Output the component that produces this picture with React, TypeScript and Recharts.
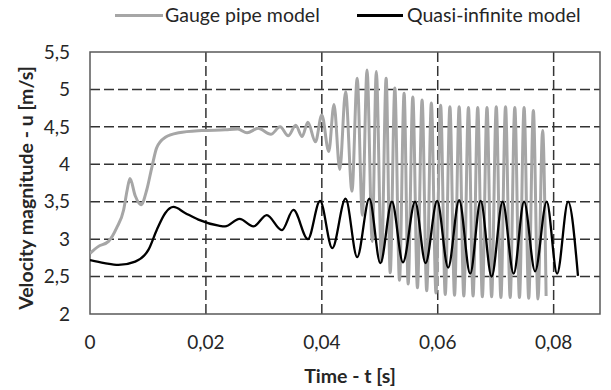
import React from 'react';
import { LineChart, Line, XAxis, YAxis, CartesianGrid, ReferenceArea } from 'recharts';

const gaugeTime = [
  0, 0.0014, 0.0032, 0.0046, 0.0058, 0.0064, 0.0069, 0.0078, 0.0088, 0.0098,
  0.0107, 0.0115, 0.013, 0.0153, 0.0193, 0.0233, 0.0255, 0.0271, 0.029, 0.0312,
  0.0328, 0.0342, 0.0355, 0.0366, 0.0376, 0.0389, 0.04, 0.0412, 0.0421, 0.0431,
  0.0441, 0.0452, 0.0461, 0.047, 0.0478, 0.0487, 0.0494, 0.0503, 0.0511, 0.0518,
  0.0526, 0.0534, 0.0542, 0.0549, 0.0557, 0.0565, 0.0573, 0.0581, 0.0589, 0.0597,
  0.0605, 0.0613, 0.0621, 0.0629, 0.0637, 0.0645, 0.0653, 0.0661, 0.0669, 0.0677,
  0.0685, 0.0693, 0.0701, 0.0709, 0.0717, 0.0725, 0.0733, 0.0741, 0.0749, 0.0757,
  0.0765, 0.0773, 0.0781, 0.0787,
];
const gaugeVelocity = [
  2.81, 2.9, 2.97, 3.15, 3.39, 3.65, 3.81, 3.58, 3.46, 3.66,
  3.97, 4.22, 4.36, 4.42, 4.45, 4.46, 4.47, 4.42, 4.48, 4.4,
  4.5, 4.38, 4.52, 4.37, 4.56, 4.3, 4.66, 4.17, 4.8, 3.93,
  4.97, 3.64, 5.15, 3.32, 5.26, 2.97, 5.24, 2.7, 5.15, 2.55,
  5.02, 2.45, 4.95, 2.4, 4.9, 2.35, 4.86, 2.31, 4.82, 2.28,
  4.79, 2.26, 4.77, 2.25, 4.77, 2.24, 4.76, 2.24, 4.76, 2.23,
  4.76, 2.23, 4.77, 2.22, 4.77, 2.22, 4.76, 2.22, 4.76, 2.21,
  4.72, 2.2, 4.45, 2.24,
];

const quasiTime = [
  0, 0.0025, 0.0049, 0.0078, 0.0101, 0.0115, 0.013, 0.0144, 0.0164, 0.0187,
  0.0222, 0.0233, 0.0258, 0.0282, 0.0305, 0.0331, 0.0351, 0.0376, 0.0397, 0.0418,
  0.0441, 0.0461, 0.0482, 0.0501, 0.0521, 0.054, 0.0561, 0.0579, 0.0599, 0.0618,
  0.0637, 0.0656, 0.0674, 0.0693, 0.0712, 0.0731, 0.0749, 0.0768, 0.0788, 0.0806,
  0.0825, 0.0842,
];
const quasiVelocity = [
  2.72, 2.68, 2.655, 2.7, 2.86, 3.12, 3.35, 3.43, 3.35, 3.26,
  3.18, 3.17, 3.27, 3.17, 3.32, 3.12, 3.39, 3.0, 3.51, 2.88,
  3.54, 2.76, 3.54, 2.68, 3.5, 2.69, 3.5, 2.68, 3.51, 2.62,
  3.52, 2.54, 3.51, 2.5, 3.5, 2.54, 3.5, 2.57, 3.5, 2.54,
  3.5, 2.51,
];

const xTicks = [0, 0.02, 0.04, 0.06, 0.08];
const yTicks = [2, 2.5, 3, 3.5, 4, 4.5, 5, 5.5];
const xGrid = [0.02, 0.04, 0.06, 0.08];
const yGrid = [2.5, 3, 3.5, 4, 4.5, 5];
const xMax = 0.088;
const yMin = 2;
const yMax = 5.5;
const seriesNames = ['Gauge pipe model', 'Quasi-infinite model'];
const xTitle = 'Time - t [s]';
const yTitle = 'Velocity magnitude - u [m/s]';

const gaugeData = gaugeTime.map((t, i) => ({ t, v: gaugeVelocity[i] }));
const quasiData = quasiTime.map((t, i) => ({ t, v: quasiVelocity[i] }));

const GRAY = '#a6a6a6';
const BLACK = '#000000';
const TEXT = '#262626';
const FONT = 'Lato, "Liberation Sans", sans-serif';
const FS = 19;
const LFS = 19.5;

const fmt = (v: number) => String(v).replace('.', ',');

export default function App() {
  return (
    <div style={{ position: 'absolute', left: 0, top: 0, width: 611, height: 390, background: '#fff', fontFamily: FONT }}>
      <LineChart
        width={611}
        height={390}
        margin={{ top: 52, right: 11, bottom: 0, left: 0 }}
        style={{ fontFamily: FONT }}
      >
        <CartesianGrid
          horizontalValues={yGrid}
          verticalValues={xGrid}
          stroke="#333333"
          strokeWidth={1.5}
          strokeDasharray="10 4"
        />
        <XAxis
          type="number"
          dataKey="t"
          domain={[0, xMax]}
          ticks={xTicks}
          allowDataOverflow
          height={76}
          axisLine={false}
          tickLine={false}
          tickSize={0}
          tickMargin={22}
          tickFormatter={fmt}
          tick={{ fontSize: FS, fill: TEXT, fontFamily: FONT }}
          label={{
            content: () => (
              <text x={350} y={375} textAnchor="middle" dominantBaseline="central" fontSize={LFS} fontWeight="bold" fill={TEXT} fontFamily={FONT}>
                {xTitle}
              </text>
            ),
          }}
        />
        <YAxis
          type="number"
          domain={[yMin, yMax]}
          ticks={yTicks}
          allowDataOverflow
          width={90}
          axisLine={false}
          tickLine={false}
          tickSize={0}
          tickMargin={20}
          tickFormatter={fmt}
          tick={{ fontSize: FS, fill: TEXT, fontFamily: FONT }}
          label={{
            content: () => (
              <text x={25} y={188} transform="rotate(-90, 25, 188)" textAnchor="middle" dominantBaseline="central" fontSize={LFS} fontWeight="bold" fill={TEXT} fontFamily={FONT}>
                {yTitle}
              </text>
            ),
          }}
        />
        <Line
          data={gaugeData}
          dataKey="v"
          type="monotone"
          stroke={GRAY}
          strokeWidth={3}
          dot={false}
          activeDot={false}
          isAnimationActive={false}
          name={seriesNames[0]}
        />
        <Line
          data={quasiData}
          dataKey="v"
          type="monotone"
          stroke={BLACK}
          strokeWidth={2.3}
          dot={false}
          activeDot={false}
          isAnimationActive={false}
          name={seriesNames[1]}
        />
        <ReferenceArea x1={0} x2={xMax} y1={yMin} y2={yMax} fill="none" stroke="#595959" strokeWidth={1.5} />
      </LineChart>
      <div style={{ position: 'absolute', left: 0, top: 0, width: 611, height: 30, color: TEXT, fontSize: LFS, fontFamily: FONT }}>
        <span style={{ position: 'absolute', left: 115, top: 14, width: 48, height: 3, background: GRAY }} />
        <span style={{ position: 'absolute', left: 165, top: 0, lineHeight: '30px', whiteSpace: 'nowrap' }}>{seriesNames[0]}</span>
        <span style={{ position: 'absolute', left: 357, top: 14, width: 46, height: 3, background: BLACK }} />
        <span style={{ position: 'absolute', left: 407, top: 0, lineHeight: '30px', whiteSpace: 'nowrap' }}>{seriesNames[1]}</span>
      </div>
    </div>
  );
}
